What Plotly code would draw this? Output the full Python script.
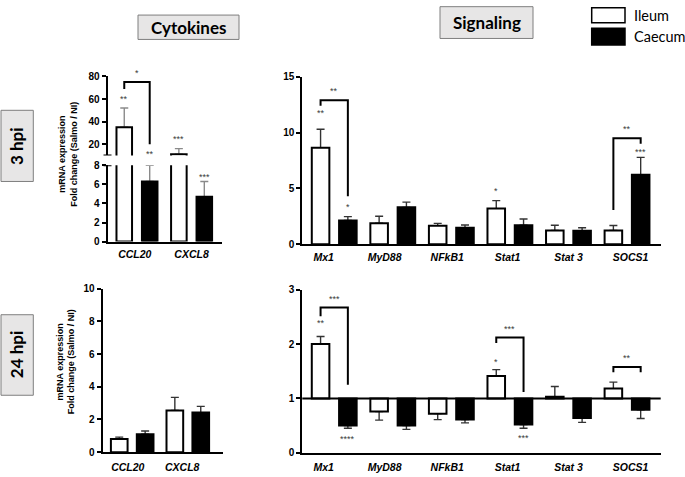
import plotly.graph_objects as go

W, H = 685, 477
FA = "Liberation Sans, Arial, sans-serif"
FT = "Lato, Carlito, Calibri, sans-serif"

# ---------------- data ----------------
cyto_genes = ["CCL20", "CXCL8"]
sig_genes = ["Mx1", "MyD88", "NFkB1", "Stat1", "Stat 3", "SOCS1"]
series_names = ["Ileum", "Caecum"]

# 3 hpi
cyto3_ileum = [35.0, 11.0]
cyto3_ileum_err = [17.0, 5.0]
cyto3_caecum = [6.3, 4.7]
cyto3_caecum_err = [1.7, 1.6]

sig3_ileum = [8.65, 1.87, 1.66, 3.19, 1.22, 1.22]
sig3_ileum_err = [1.65, 0.63, 0.20, 0.71, 0.47, 0.45]
sig3_caecum = [2.12, 3.30, 1.48, 1.70, 1.20, 6.23]
sig3_caecum_err = [0.35, 0.47, 0.24, 0.55, 0.27, 1.55]

# 24 hpi
cyto24_ileum = [0.80, 2.55]
cyto24_ileum_err = [0.12, 0.80]
cyto24_caecum = [1.10, 2.42]
cyto24_caecum_err = [0.20, 0.38]

sig24_ileum = [2.00, 0.76, 0.72, 1.41, 1.03, 1.18]
sig24_ileum_err = [0.14, 0.16, 0.11, 0.12, 0.19, 0.12]
sig24_caecum = [0.50, 0.50, 0.61, 0.52, 0.64, 0.79]
sig24_caecum_err = [0.05, 0.07, 0.06, 0.07, 0.08, 0.16]
sig24_baseline = 1.0

# significance marks: (gene index, series 0=Ileum/1=Caecum, label, y, extra pixel shift)
cyto3_marks_upper = [(0, 0, "**", 60, 0), (1, 0, "***", 24.5, 0)]
cyto3_marks_lower = [(0, 1, "**", 8, 11), (1, 1, "***", 6.8, 0)]
sig3_marks = [(0, 0, "**", 11.8, 0), (0, 1, "*", 3.3, 0), (3, 0, "*", 4.8, 0), (5, 1, "***", 8.3, 0)]
sig24_marks = [(0, 0, "**", 2.39, 0), (0, 1, "****", 0.26, 0), (3, 0, "*", 1.67, 0), (3, 1, "***", 0.27, 0)]
# comparison brackets: (gene index, left-arm bottom, top, right-arm bottom, label)
cyto3_brackets = [(0, 69, 75, 20, "*")]
sig3_brackets = [(0, 12.4, 12.9, 4.3, "**"), (5, 3.07, 9.5, 9.0, "**")]
sig24_brackets = [(0, 2.51, 2.67, 1.25, "***"), (3, 2.02, 2.12, 1.12, "***"), (5, 1.48, 1.58, 1.48, "**")]

# ---------------- layout helpers ----------------
OFF = 0.233


def px(x):
    return x / W


def py(y):
    return 1 - y / H


fig = go.Figure()


def add_bars(xa, ya, vi, ei, vc, ec, errcol, bw, base=None):
    n = len(vi)
    for k, (vals, errs, fill) in enumerate([(vi, ei, "white"), (vc, ec, "black")]):
        sign = -1 if k == 0 else 1
        xs = [i + sign * OFF for i in range(n)]
        if base is None:
            ys = list(vals)
            up = list(errs)
            dn = [0] * n
        else:
            ys = [v - base for v in vals]
            up = [e if v >= base else 0 for v, e in zip(vals, errs)]
            dn = [e if v < base else 0 for v, e in zip(vals, errs)]
        # error bars (drawn beneath the bar outline)
        fig.add_trace(go.Bar(
            x=xs, y=ys, base=base, width=bw, xaxis=xa, yaxis=ya,
            marker=dict(color="rgba(0,0,0,0)", line=dict(width=0)),
            error_y=dict(type="data", symmetric=False, array=up, arrayminus=dn,
                         color=errcol, thickness=1.4, width=4),
            showlegend=False, hoverinfo="skip"))
        fig.add_trace(go.Bar(
            x=xs, y=ys, base=base, width=bw, xaxis=xa, yaxis=ya, name=series_names[k],
            marker=dict(color=fill, line=dict(color="black", width=2)),
            showlegend=False, hoverinfo="skip"))


# Top-left (broken axis): lower y, upper y2 on x
add_bars("x", "y", cyto3_ileum, cyto3_ileum_err, cyto3_caecum, cyto3_caecum_err, "#8a8a8a", 0.285)
add_bars("x", "y2", cyto3_ileum, cyto3_ileum_err, cyto3_caecum, cyto3_caecum_err, "#8a8a8a", 0.285)
# Top-right
add_bars("x2", "y3", sig3_ileum, sig3_ileum_err, sig3_caecum, sig3_caecum_err, "#333333", 0.30)
# Bottom-left
add_bars("x3", "y4", cyto24_ileum, cyto24_ileum_err, cyto24_caecum, cyto24_caecum_err, "#333333", 0.30)
# Bottom-right (bars from baseline 1)
add_bars("x4", "y5", sig24_ileum, sig24_ileum_err, sig24_caecum, sig24_caecum_err, "#333333", 0.30,
         base=sig24_baseline)

tickfont_y = dict(family=FA, size=10, color="black", weight="bold")
tickfont_x = dict(family=FA, size=10.5, color="black", weight="bold", style="italic")


def yax(dom_px, rng, tickvals, anchor):
    return dict(domain=[py(dom_px[1]), py(dom_px[0])], range=rng, tickvals=tickvals, anchor=anchor,
                showline=True, linecolor="black", linewidth=2, ticks="outside", ticklen=4,
                tickwidth=1.5, tickcolor="black", showgrid=False, zeroline=False,
                tickfont=tickfont_y, fixedrange=True)


def xax(dom_px, rng, tickvals, ticktext, anchor, standoff):
    return dict(domain=[px(dom_px[0]), px(dom_px[1])], range=rng, tickvals=tickvals, ticktext=ticktext,
                anchor=anchor, showline=True, linecolor="black", linewidth=2, ticks="",
                ticklabelstandoff=standoff,
                showgrid=False, zeroline=False, tickfont=tickfont_x, fixedrange=True)


TL_X = (107.5, 222)
TR_X = (302.3, 660.7)
BL_X = (102.5, 222.5)
cyto_label_pos_3 = [-0.04, 1.0]
cyto_label_pos_24 = [-0.08, 0.9]
sig_label_pos = [-0.18, 0.86, 1.93, 2.96, 4.0, 5.06]

fig.update_layout(
    xaxis=xax(TL_X, [-0.540, 1.557], cyto_label_pos_3, cyto_genes, "y", 2),
    yaxis=yax((163.3, 241.7), [0, 8], [0, 2, 4, 6, 8], "x"),
    yaxis2=yax((72.3, 153.3), [10, 80], [20, 40, 60, 80], "x"),
    xaxis2=xax(TR_X, [-0.545, 5.575], sig_label_pos, sig_genes, "y3", 2),
    yaxis3=yax((72.7, 244.3), [0, 15], [0, 5, 10, 15], "x2"),
    xaxis3=xax(BL_X, [-0.534, 1.624], cyto_label_pos_24, cyto_genes, "y4", 4),
    yaxis4=yax((290, 457.7), [0, 10], [0, 2, 4, 6, 8, 10], "x3"),
    xaxis4=xax(TR_X, [-0.545, 5.575], sig_label_pos, sig_genes, "y5", 4),
    yaxis5=yax((291, 458.3), [0, 3], [0, 1, 2, 3], "x4"),
)

shapes = []
annotations = []


def star_ann(xa, ya, gi, si, text, y, shift):
    x = gi + (-OFF if si == 0 else OFF)
    annotations.append(dict(x=x, y=y, xref=xa, yref=ya, text=text, showarrow=False, yshift=shift,
                            xanchor="center", yanchor="middle",
                            font=dict(family=FA, size=9, color="#3a3a3a")))


for m in cyto3_marks_upper:
    star_ann("x", "y2", *m)
for m in cyto3_marks_lower:
    star_ann("x", "y", *m)
for m in sig3_marks:
    star_ann("x2", "y3", *m)
for m in sig24_marks:
    star_ann("x4", "y5", *m)


def bracket(xa, ya, gi, yl, yt, yr, text):
    x0, x1 = gi - OFF, gi + OFF
    shapes.append(dict(type="path", xref=xa, yref=ya,
                       path=f"M {x0},{yl} L {x0},{yt} L {x1},{yt} L {x1},{yr}",
                       line=dict(color="black", width=2)))
    annotations.append(dict(x=gi, y=yt, xref=xa, yref=ya, text=text, showarrow=False, yshift=9,
                            xanchor="center", yanchor="middle",
                            font=dict(family=FA, size=9, color="#3a3a3a")))


for b in cyto3_brackets:
    bracket("x", "y2", *b)
for b in sig3_brackets:
    bracket("x2", "y3", *b)
for b in sig24_brackets:
    bracket("x4", "y5", *b)

# axis-break caps on the top-left panel
shapes.append(dict(type="line", xref="paper", yref="y2", x0=px(103.5), x1=px(111.5), y0=10, y1=10,
                   line=dict(color="black", width=2)))
shapes.append(dict(type="line", xref="paper", yref="y", x0=px(103.5), x1=px(111.5), y0=8, y1=8,
                   line=dict(color="black", width=2)))
# baseline of the 24 hpi signalling panel
shapes.append(dict(type="line", xref="x4 domain", yref="y5", x0=0, x1=1, y0=sig24_baseline,
                   y1=sig24_baseline, line=dict(color="black", width=2), layer="above"))


def box(x0, y0, x1, y1, fill="#e7e6e6", line="#7f7f7f", lw=1):
    shapes.append(dict(type="rect", xref="paper", yref="paper", x0=px(x0), x1=px(x1),
                       y0=py(y1), y1=py(y0), fillcolor=fill, line=dict(color=line, width=lw)))


def text(x, y, t, size, angle=0, bold=True, xanchor="center", family=FT):
    annotations.append(dict(x=px(x), y=py(y), xref="paper", yref="paper", text=t, showarrow=False,
                            textangle=angle, xanchor=xanchor, yanchor="middle",
                            font=dict(family=family, size=size, color="black",
                                      weight="bold" if bold else "normal")))


# panel titles
box(138, 9.3, 239, 34.3)
text(188.5, 21.8, "Cytokines", 17)
box(440, 0.7, 533, 33.3)
text(486.5, 17, "Signaling", 17)
box(1, 107, 33.3, 180)
text(17.2, 143.5, "3 hpi", 17, angle=-90)
box(1, 316.7, 33.3, 399.3)
text(17.2, 358, "24 hpi", 17, angle=-90)

# legend
box(591.7, 1.7, 625, 17.3, fill="white", line="black", lw=1.5)
box(591.7, 22.7, 625, 40, fill="black", line="black", lw=1.5)
text(632, 10, "Ileum", 14.5, bold=False, xanchor="left")
text(632, 31.5, "Caecum", 14.5, bold=False, xanchor="left")

# y-axis titles
ytitle = "mRNA expression<br>Fold change (Salmo / NI)"
for (tx, ty) in [(68.5, 152), (65.5, 365)]:
    annotations.append(dict(x=px(tx), y=py(ty), xref="paper", yref="paper", text=ytitle, showarrow=False,
                            textangle=-90, xanchor="center", yanchor="middle",
                            font=dict(family=FA, size=9, color="black", weight="bold")))

fig.update_layout(
    width=W, height=H, margin=dict(l=0, r=0, t=0, b=0),
    plot_bgcolor="white", paper_bgcolor="white",
    barmode="overlay", showlegend=False,
    shapes=shapes, annotations=annotations,
)

fig.write_html(
    "out.html",
    config={"displayModeBar": False},
    post_script="document.body.style.margin='0';document.body.style.overflow='hidden';",
)
